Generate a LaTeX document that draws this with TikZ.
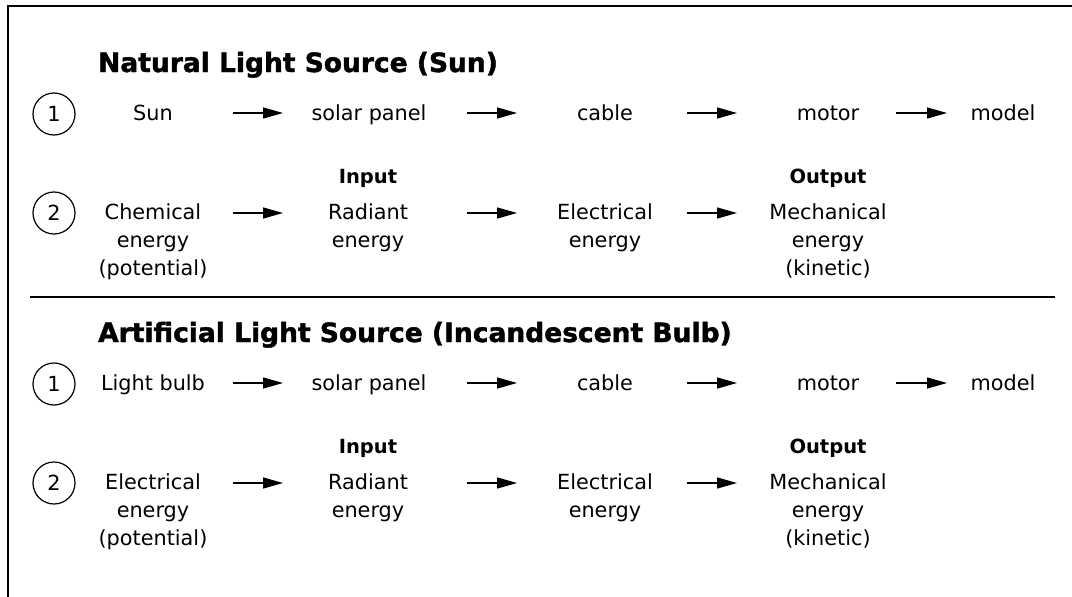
\documentclass[tikz,border=0pt]{standalone}
\usepackage{fontspec}
\setmainfont{DejaVu Sans}
\newfontfamily\ttlfont[FakeBold=1.6]{DejaVu Sans Bold}
\usetikzlibrary{arrows.meta}
\begin{document}
\begin{tikzpicture}[x=1pt,y=-1pt,
 txt/.style={inner sep=0pt, anchor=base, align=center, font=\fontsize{20.8}{28}\selectfont},
 ttl/.style={inner sep=0pt, anchor=base west, font=\ttlfont\fontsize{26.5}{30}\selectfont},
 lbl/.style={inner sep=0pt, anchor=base, font=\bfseries\fontsize{19.5}{24}\selectfont},
 num/.style={circle, draw, line width=1.2pt, minimum size=42pt, inner sep=0pt, font=\fontsize{20.8}{24}\selectfont},
 arr/.style={line width=1.3pt, -{Triangle[length=20pt,width=11pt]}},
 rule/.style={line width=1.6pt}]
\useasboundingbox (0,0) rectangle (1072,597);
\draw[rule] (8,597) -- (8,6) -- (1072,6);
\draw[rule] (30,297) -- (1055,297);

% ---- Section 1
\node[ttl] (t1) at (98,72) {Natural Light Source (Sun)};
\node[num] (c11) at (54,114) {1};
\node[txt] (sun) at (153,120) {Sun};
\node[txt] (sp1) at (369,120) {solar panel};
\node[txt] (cb1) at (605,120) {cable};
\node[txt] (mo1) at (828,120) {motor};
\node[txt] (md1) at (1003,120) {model};
\coordinate (a11s) at (233,113); \coordinate (a11e) at (283,113);
\coordinate (a12s) at (467,113); \coordinate (a12e) at (517,113);
\coordinate (a13s) at (687,113); \coordinate (a13e) at (737,113);
\coordinate (a14s) at (896,113); \coordinate (a14e) at (947,113);
\draw[arr] (a11s) -- (a11e);
\draw[arr] (a12s) -- (a12e);
\draw[arr] (a13s) -- (a13e);
\draw[arr] (a14s) -- (a14e);

\node[num] (c12) at (54,213) {2};
\node[lbl] (in1) at (368,183) {Input};
\node[lbl] (out1) at (828,183) {Output};
\node[txt] (ch1) at (153,275) {Chemical\\energy\\(potential)};
\node[txt] (ra1) at (368,247) {Radiant\\energy};
\node[txt] (el1) at (605,247) {Electrical\\energy};
\node[txt] (me1) at (828,275) {Mechanical\\energy\\(kinetic)};
\coordinate (b11s) at (233,213); \coordinate (b11e) at (283,213);
\coordinate (b12s) at (467,213); \coordinate (b12e) at (517,213);
\coordinate (b13s) at (687,213); \coordinate (b13e) at (737,213);
\draw[arr] (b11s) -- (b11e);
\draw[arr] (b12s) -- (b12e);
\draw[arr] (b13s) -- (b13e);

% ---- Section 2
\node[ttl] (t2) at (98,342) {Artificial Light Source (Incandescent Bulb)};
\node[num] (c21) at (54,384) {1};
\node[txt] (lb) at (153,390) {Light bulb};
\node[txt] (sp2) at (369,390) {solar panel};
\node[txt] (cb2) at (605,390) {cable};
\node[txt] (mo2) at (828,390) {motor};
\node[txt] (md2) at (1003,390) {model};
\coordinate (a21s) at (233,383); \coordinate (a21e) at (283,383);
\coordinate (a22s) at (467,383); \coordinate (a22e) at (517,383);
\coordinate (a23s) at (687,383); \coordinate (a23e) at (737,383);
\coordinate (a24s) at (896,383); \coordinate (a24e) at (947,383);
\draw[arr] (a21s) -- (a21e);
\draw[arr] (a22s) -- (a22e);
\draw[arr] (a23s) -- (a23e);
\draw[arr] (a24s) -- (a24e);

\node[num] (c22) at (54,483) {2};
\node[lbl] (in2) at (368,453) {Input};
\node[lbl] (out2) at (828,453) {Output};
\node[txt] (ch2) at (153,545) {Electrical\\energy\\(potential)};
\node[txt] (ra2) at (368,517) {Radiant\\energy};
\node[txt] (el2) at (605,517) {Electrical\\energy};
\node[txt] (me2) at (828,545) {Mechanical\\energy\\(kinetic)};
\coordinate (b21s) at (233,483); \coordinate (b21e) at (283,483);
\coordinate (b22s) at (467,483); \coordinate (b22e) at (517,483);
\coordinate (b23s) at (687,483); \coordinate (b23e) at (737,483);
\draw[arr] (b21s) -- (b21e);
\draw[arr] (b22s) -- (b22e);
\draw[arr] (b23s) -- (b23e);
\end{tikzpicture}
\end{document}
